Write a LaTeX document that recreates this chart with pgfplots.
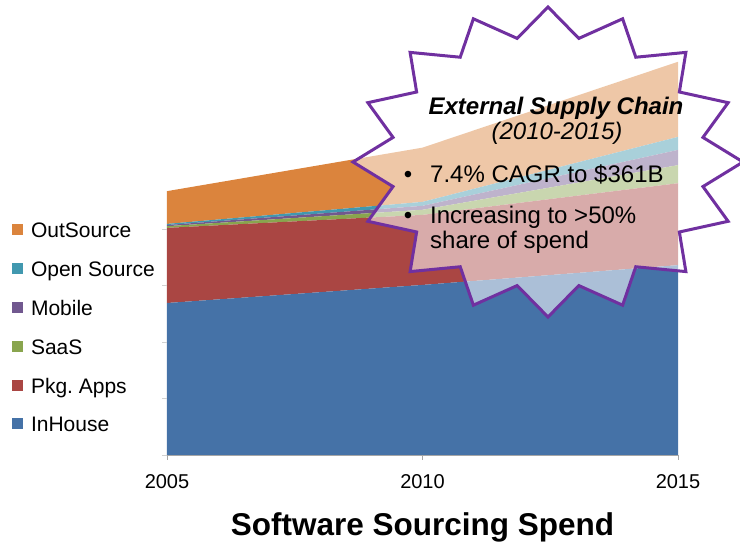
\documentclass[border=0pt]{standalone}
\usepackage{pgfplots}
\pgfplotsset{compat=1.18}
\usepackage{pgfplotstable}
\usepackage{fontspec}
\setmainfont{Liberation Sans}
\definecolor{cInHouse}{HTML}{4572A7}
\definecolor{cPkg}{HTML}{AA4643}
\definecolor{cSaaS}{HTML}{89A54E}
\definecolor{cMobile}{HTML}{71588F}
\definecolor{cOpen}{HTML}{4198AF}
\definecolor{cOut}{HTML}{DB843D}
\definecolor{cStar}{HTML}{7030A0}
\definecolor{axisgray}{HTML}{A6A6A6}
\pgfplotstableread{
year InHouse Pkg SaaS Mobile Open Out
2005 269 133 3 2 2 58
2010 301 124 9 7 7 96
2015 336 145 32 27 23 133
}\data
\begin{document}
\frenchspacing
\begin{tikzpicture}
\useasboundingbox (-167pt,-90pt) rectangle (573pt,455pt);
\begin{axis}[
  at={(0pt,0pt)}, anchor=south west,
  scale only axis, width=511pt, height=395.5pt,
  xmin=2005, xmax=2015, ymin=0, ymax=700,
  stack plots=y, area style,
  axis x line*=bottom, axis y line*=left,
  x axis line style={draw=axisgray, line width=0.8pt, -},
  y axis line style={draw=none},
  xtick={2005,2010,2015}, xticklabels={2005,2010,2015},
  ytick={0,100,200,300,400}, yticklabels={},
  tick align=outside, major tick length=5pt,
  xtick style={draw=axisgray, line width=0.6pt},
  ytick style={draw=black!18, line width=0.6pt},
  xticklabel style={font=\fontsize{20}{24}\selectfont, yshift=-11pt},
  xlabel={Software Sourcing Spend},
  xlabel style={font=\bfseries\fontsize{31.5}{36}\selectfont, at={(axis description cs:0.5,-0.2023)}, anchor=base},
  reverse legend,
  legend image code/.code={\fill[#1] (0pt,-3pt) rectangle (11pt,8pt);},
  legend cell align=left,
  legend style={at={(-0.3033,0.588)}, anchor=north west, draw=none, fill=none,
    inner sep=0pt, outer sep=0pt, row sep=18.8pt,
    font=\fontsize{21}{25}\selectfont,
    nodes={inner sep=0pt, text height=15.5pt, text depth=4.5pt},
    /tikz/every odd column/.append style={column sep=8pt}},
]
\addplot[fill=cInHouse, draw=none] table[x=year, y=InHouse] {\data} \closedcycle;
\addlegendentry{InHouse}
\addplot[fill=cPkg, draw=none] table[x=year, y=Pkg] {\data} \closedcycle;
\addlegendentry{Pkg. Apps}
\addplot[fill=cSaaS, draw=none] table[x=year, y=SaaS] {\data} \closedcycle;
\addlegendentry{SaaS}
\addplot[fill=cMobile, draw=none] table[x=year, y=Mobile] {\data} \closedcycle;
\addlegendentry{Mobile}
\addplot[fill=cOpen, draw=none] table[x=year, y=Open] {\data} \closedcycle;
\addlegendentry{Open Source}
\addplot[fill=cOut, draw=none] table[x=year, y=Out] {\data} \closedcycle;
\addlegendentry{OutSource}
\end{axis}
% starburst callout
\draw[cStar, line width=3pt, line join=miter, fill=white, fill opacity=0.55, shift={(381pt,293pt)}]
  (90:195pt and 155pt)
  \foreach \k [evaluate=\k as \a using 90+11.25*\k,
               evaluate=\k as \rx using {mod(\k,2)==1 ? 158 : 195},
               evaluate=\k as \ry using {mod(\k,2)==1 ? 126 : 155}] in {1,...,31}
  { -- (\a:\rx pt and \ry pt) } -- cycle;
\node[anchor=base, inner sep=0pt, font=\bfseries\itshape\fontsize{24}{28}\selectfont] at (389pt,340pt) {External Supply Chain};
\node[anchor=base, inner sep=0pt, font=\itshape\fontsize{24}{28}\selectfont] at (390pt,315pt) {(2010-2015)};
\node[anchor=base, inner sep=0pt, font=\fontsize{24}{28}\selectfont] at (241pt,272pt) {\textbullet};
\node[anchor=base west, inner sep=0pt, font=\fontsize{24}{28}\selectfont] at (263pt,272pt) {7.4\% CAGR to \$361B};
\node[anchor=base, inner sep=0pt, font=\fontsize{24}{28}\selectfont] at (241pt,231pt) {\textbullet};
\node[anchor=base west, inner sep=0pt, font=\fontsize{24}{28}\selectfont] at (263pt,231pt) {Increasing to >50\%};
\node[anchor=base west, inner sep=0pt, font=\fontsize{24}{28}\selectfont] at (263pt,206pt) {share of spend};
\end{tikzpicture}
\end{document}
